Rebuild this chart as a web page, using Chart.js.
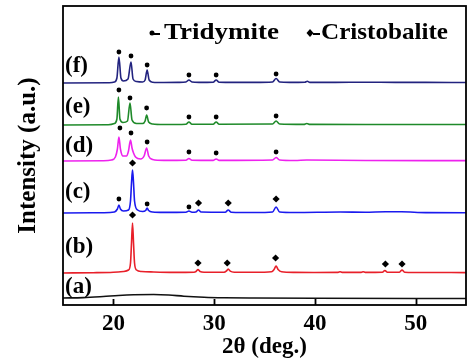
<!DOCTYPE html>
<html>
<head>
<meta charset="utf-8">
<script src="https://cdn.jsdelivr.net/npm/chart.js@4.4.1/dist/chart.umd.min.js"></script>
<style>
  body { margin: 0; background: #fff; }
  #wrap { width: 470px; height: 363px; }
</style>
</head>
<body>
<div id="wrap"><canvas id="xrd"></canvas></div>
<script>
// x range and ticks (2 theta, deg.)
const xMin = 15, xMax = 55;
const xTicks = [20, 30, 40, 50];

// sample labels, offsets of each pattern and colours, bottom to top
const sampleLabels = ['(a)', '(b)', '(c)', '(d)', '(e)', '(f)'];
const offsets = [7, 32, 92, 144, 180, 222];
const colores = ['#111111', '#e8202a', '#1a1aee', '#ee22ee', '#1f8a2a', '#22237f'];

// patterns: [2theta, intensity above the baseline]
const patA = [[15,0],[17,0.4],[19,1.5],[20.5,2.5],[22,3.2],[24,3.5],[25.5,3],[27,1.8],[29,0.8],[31,0.3],[34,0],[40,-0.3],[55,-0.5]];
const patB = [[15,0],[18,0.3],[20,0.8],[21,1.5],[21.5,3],[21.7,10],[21.8,30],[21.9,50],[22.0,30],[22.1,10],[22.3,3],[22.8,1.5],[24,1],[26,0.6],[28,0.8],[28.2,1.5],[28.4,3.5],[28.6,1.5],[29,0.8],[31,0.8],[31.2,1.8],[31.4,4],[31.6,1.8],[32,0.8],[34,0.7],[35.7,1.2],[35.95,3.5],[36.15,7],[36.35,3.5],[36.7,1.2],[38,0.6],[40,0.5],[42.3,0.6],[42.5,1.3],[42.7,0.6],[44.6,0.6],[44.8,1.2],[45,0.6],[46.7,0.8],[46.95,2.5],[47.2,0.8],[48.4,0.8],[48.65,3],[48.9,0.8],[51,0.5],[55,0.4]];
const patC = [[15,0],[19,0.3],[20.1,1],[20.4,4],[20.55,8],[20.7,4],[21.0,2],[21.5,3],[21.7,12],[21.8,30],[21.9,43],[22.0,30],[22.1,12],[22.4,3],[22.9,1.5],[23.2,2.5],[23.35,5],[23.5,2.5],[23.9,1],[25,0.6],[27.2,0.8],[27.5,2],[27.8,0.8],[28.2,1],[28.45,3],[28.7,1],[31.1,0.8],[31.4,3],[31.7,0.8],[34,0.5],[35.8,1],[36.15,6],[36.5,1],[38,0.5],[42.5,1],[45,0.8],[47,1.2],[48.6,1.2],[51,0.4],[55,0.3]];
const patD = [[15,0],[19,0.3],[19.8,1],[20.2,4],[20.4,12],[20.55,24],[20.7,12],[20.95,5],[21.3,5],[21.5,10],[21.7,21],[21.85,13],[22.0,8],[22.2,4],[22.7,2],[23.05,5],[23.3,13],[23.5,5],[23.9,1.5],[25,0.6],[27.2,0.8],[27.5,2.5],[27.8,0.8],[29.9,0.6],[30.2,2],[30.5,0.6],[35.8,1],[36.15,3.5],[36.5,1],[38,0.5],[39.2,1],[45,0.5],[55,0.4]];
const patE = [[15,0],[19.5,0.3],[20.1,1.5],[20.35,6],[20.5,28],[20.65,6],[20.95,2.5],[21.4,4],[21.65,22],[21.85,5],[22.3,1.5],[22.9,1.5],[23.15,4],[23.3,10],[23.5,3],[23.9,1],[25,0.5],[27.2,0.8],[27.5,3],[27.8,0.8],[29.9,0.8],[30.2,3],[30.5,0.8],[35.8,1],[36.15,4],[36.5,1],[38.9,0.6],[39.2,1.5],[39.5,0.6],[45,0.5],[55,0.5]];
const patF = [[15,0],[19.6,0.3],[20.1,1],[20.35,5],[20.55,26],[20.75,5],[21.0,2],[21.45,4],[21.75,21],[21.95,4],[22.3,1.5],[22.9,1],[23.15,3],[23.35,13],[23.55,3],[23.9,0.8],[25,0.5],[26.5,0.6],[27.2,1],[27.5,3],[27.8,1],[28.5,0.6],[29.9,0.8],[30.2,3],[30.5,0.8],[32,0.6],[34,0.6],[35.8,1],[36.15,4.5],[36.5,1],[37.5,0.6],[39,0.8],[39.25,1.8],[39.5,0.6],[42,0.6],[45,0.8],[48,0.6],[51,0.6],[55,0.5]];
const patrones = [patA, patB, patC, patD, patE, patF];

// phase markers [2theta, height on the plot]
const tridymite = [
  [20.55,253],[21.75,249],[23.35,240],[27.5,230],[30.2,230],[36.15,231],
  [20.55,215],[21.65,207],[23.3,197],[27.5,188],[30.2,188],[36.15,189],
  [20.65,177],[21.75,172],[23.35,163],[27.5,153],[30.2,152],[36.15,153],
  [20.55,106],[23.35,101],[27.5,98]
];
const cristobalite = [
  [21.9,142],[28.45,102],[31.4,102],[36.15,106],
  [21.9,90],[28.4,42],[31.3,42],[36.1,47],[47.0,41],[48.65,41]
];

const fuente = '"Liberation Serif", "Times New Roman", serif';

const datasets = patrones.map(function (p, i) {
  return {
    data: p.map(function (pt) { return { x: pt[0], y: pt[1] + offsets[i] }; }),
    borderColor: colores[i],
    borderWidth: 1.6,
    pointRadius: 0,
    fill: false,
    cubicInterpolationMode: 'monotone'
  };
});
datasets.push({
  data: tridymite.map(function (pt) { return { x: pt[0], y: pt[1] }; }),
  showLine: false, pointStyle: 'circle', pointRadius: 2.4,
  backgroundColor: '#000', borderColor: '#000', borderWidth: 0
});
datasets.push({
  data: cristobalite.map(function (pt) { return { x: pt[0], y: pt[1] }; }),
  showLine: false, pointStyle: 'rectRot', pointRadius: 3.6,
  backgroundColor: '#000', borderColor: '#000', borderWidth: 0
});

// draw a word stretched to a given width
function palabra(ctx, txt, x, y, ancho) {
  const w = ctx.measureText(txt).width;
  ctx.save();
  ctx.translate(x, y);
  ctx.scale(ancho / w, 1);
  ctx.fillText(txt, 0, 0);
  ctx.restore();
}

// frame, inward ticks, sample labels and legend
const decoracion = {
  id: 'decoracion',
  afterDraw: function (chart) {
    const ctx = chart.ctx;
    const a = chart.chartArea;
    const xs = chart.scales.x;
    ctx.save();
    ctx.strokeStyle = '#000';
    ctx.lineWidth = 1.8;
    ctx.strokeRect(a.left, a.top, a.right - a.left, a.bottom - a.top);
    ctx.beginPath();
    xTicks.forEach(function (t) {
      const px = Math.round(xs.getPixelForValue(t)) + 0.5;
      ctx.moveTo(px, a.bottom);
      ctx.lineTo(px, a.bottom - 6);
    });
    ctx.stroke();

    ctx.fillStyle = '#000';
    ctx.font = 'bold 23px ' + fuente;
    ctx.textBaseline = 'middle';
    const ly = [287, 247, 192, 146, 107, 66];
    sampleLabels.forEach(function (s, i) {
      ctx.fillText(s, a.left + 2, ly[i]);
    });

    // legend
    ctx.font = 'bold 24px ' + fuente;
    ctx.textBaseline = 'alphabetic';
    ctx.beginPath();
    ctx.arc(152, 33, 2.5, 0, Math.PI * 2);
    ctx.fill();
    ctx.fillRect(154, 33, 6, 2);
    palabra(ctx, 'Tridymite', 164, 39, 115);
    ctx.beginPath();
    ctx.moveTo(310, 29); ctx.lineTo(313.5, 33); ctx.lineTo(310, 37); ctx.lineTo(306.5, 33);
    ctx.closePath();
    ctx.fill();
    ctx.fillRect(313, 33, 7, 2);
    palabra(ctx, 'Cristobalite', 321, 39, 127);
    ctx.restore();
  }
};

new Chart(document.getElementById('xrd').getContext('2d'), {
  type: 'line',
  data: { datasets: datasets },
  options: {
    responsive: true,
    maintainAspectRatio: false,
    animation: false,
    layout: { padding: { top: 6, right: 3, left: 12, bottom: 4 } },
    plugins: { legend: { display: false }, tooltip: { enabled: false } },
    scales: {
      x: {
        type: 'linear', min: xMin, max: xMax,
        afterBuildTicks: function (s) { s.ticks = xTicks.map(function (v) { return { value: v }; }); },
        afterFit: function (s) { s.height = 54; },
        grid: { display: false, drawTicks: false },
        border: { display: false },
        ticks: { color: '#000', padding: 8, font: { family: fuente, size: 23, weight: 'bold', lineHeight: 1 } },
        title: { display: true, text: '2θ (deg.)', color: '#000', padding: { top: 0, bottom: 0 },
                 font: { family: fuente, size: 23, weight: 'bold', lineHeight: 1 } }
      },
      y: {
        min: 0, max: 299,
        grid: { display: false, drawTicks: false },
        border: { display: false },
        ticks: { display: false },
        afterFit: function (s) { s.width = 51; },
        title: { display: true, text: 'Intensity (a.u.)', color: '#000', padding: { top: 4, bottom: 20 },
                 font: { family: fuente, size: 25, weight: 'bold', lineHeight: 1 } }
      }
    }
  },
  plugins: [decoracion]
});
</script>
</body>
</html>
